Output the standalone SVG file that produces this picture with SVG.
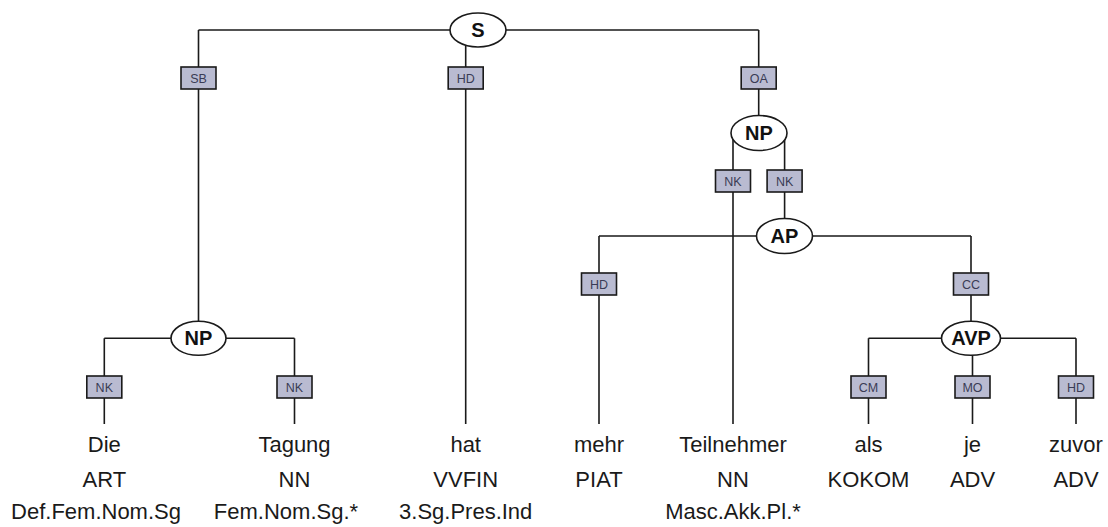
<svg xmlns="http://www.w3.org/2000/svg" width="1108" height="527" viewBox="0 0 1108 527">
<style>
.c{stroke:#1a1a1a;stroke-width:1.6;fill:none}
.n ellipse{fill:#fff;stroke:#1a1a1a;stroke-width:1.6}
.n text{font-family:"Liberation Sans",Arial,sans-serif;font-weight:bold;font-size:20px;fill:#111;text-anchor:middle}
.e rect{fill:#b9bbd1;stroke:#1a1a1a;stroke-width:1.6}
.e text{font-family:"Liberation Sans",Arial,sans-serif;font-size:12.5px;fill:#3a3c55;text-anchor:middle}
.w text{font-family:"Liberation Sans",Arial,sans-serif;font-size:22px;fill:#1a1a1a;text-anchor:middle}
</style>
<g id="connectors">
<path class="c" d="M198.5,30 H758.7 M198.5,30 V338 M465.7,30 V424 M758.7,30 V133"/>
<path class="c" d="M733,133 V424 M784.6,133 V236"/>
<path class="c" d="M599,236 H971 M599,236 V424 M971,236 V338"/>
<path class="c" d="M104.3,338.3 H294.5 M104.3,338.3 V424 M294.5,338.3 V424"/>
<path class="c" d="M868.5,338.3 H1076 M868.5,338.3 V424 M1076,338.3 V424 M972.5,338.3 V424"/>
</g>
<g id="edge-labels" class="e">
<g id="lbl-SB"><rect x="181" y="67" width="35" height="22"/><text x="198.5" y="82.5">SB</text></g>
<g id="lbl-HD1"><rect x="448.2" y="67" width="35" height="22"/><text x="465.7" y="82.5">HD</text></g>
<g id="lbl-OA"><rect x="741.2" y="67" width="35" height="22"/><text x="758.7" y="82.5">OA</text></g>
<g id="lbl-NK1"><rect x="715.5" y="170" width="35" height="22"/><text x="733" y="185.5">NK</text></g>
<g id="lbl-NK2"><rect x="767.1" y="170" width="35" height="22"/><text x="784.6" y="185.5">NK</text></g>
<g id="lbl-HD2"><rect x="581.5" y="273" width="35" height="22"/><text x="599" y="288.5">HD</text></g>
<g id="lbl-CC"><rect x="953.5" y="273" width="35" height="22"/><text x="971" y="288.5">CC</text></g>
<g id="lbl-NK3"><rect x="86.8" y="376" width="35" height="22"/><text x="104.3" y="391.5">NK</text></g>
<g id="lbl-NK4"><rect x="277" y="376" width="35" height="22"/><text x="294.5" y="391.5">NK</text></g>
<g id="lbl-CM"><rect x="851" y="376" width="35" height="22"/><text x="868.5" y="391.5">CM</text></g>
<g id="lbl-MO"><rect x="955" y="376" width="35" height="22"/><text x="972.5" y="391.5">MO</text></g>
<g id="lbl-HD3"><rect x="1058.5" y="376" width="35" height="22"/><text x="1076" y="391.5">HD</text></g>
</g>
<g id="node-S" class="n"><ellipse cx="478" cy="30" rx="28" ry="17"/><text x="478" y="37">S</text></g>
<g id="node-NP1" class="n"><ellipse cx="759" cy="133" rx="28" ry="17.5"/><text x="759" y="140">NP</text></g>
<g id="node-AP" class="n"><ellipse cx="784.5" cy="236" rx="28" ry="17.5"/><text x="784.5" y="243">AP</text></g>
<g id="node-NP2" class="n"><ellipse cx="198.5" cy="338.3" rx="27.5" ry="17"/><text x="198.5" y="345.3">NP</text></g>
<g id="node-AVP" class="n"><ellipse cx="971" cy="338.3" rx="29.5" ry="17"/><text x="971" y="345.3">AVP</text></g>
<g id="words" class="w">
<g id="w-Die"><text x="104.3" y="452">Die</text><text x="104.3" y="487">ART</text><text x="96" y="519">Def.Fem.Nom.Sg</text></g>
<g id="w-Tagung"><text x="294.5" y="452">Tagung</text><text x="294.5" y="487">NN</text><text x="286" y="519">Fem.Nom.Sg.*</text></g>
<g id="w-hat"><text x="465.7" y="452">hat</text><text x="465.7" y="487">VVFIN</text><text x="465.7" y="519">3.Sg.Pres.Ind</text></g>
<g id="w-mehr"><text x="599" y="452">mehr</text><text x="599" y="487">PIAT</text></g>
<g id="w-Teilnehmer"><text x="733" y="452">Teilnehmer</text><text x="733" y="487">NN</text><text x="733" y="519">Masc.Akk.Pl.*</text></g>
<g id="w-als"><text x="868.5" y="452">als</text><text x="868.5" y="487">KOKOM</text></g>
<g id="w-je"><text x="972.5" y="452">je</text><text x="972.5" y="487">ADV</text></g>
<g id="w-zuvor"><text x="1076" y="452">zuvor</text><text x="1076" y="487">ADV</text></g>
</g>
</svg>
